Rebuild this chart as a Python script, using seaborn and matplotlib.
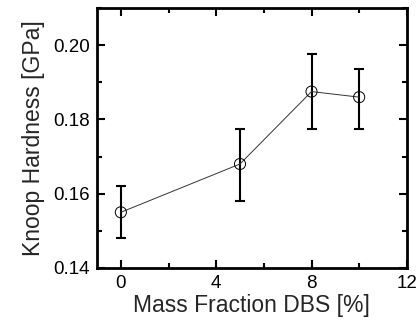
import matplotlib
matplotlib.use("Agg")
import matplotlib.pyplot as plt
import seaborn as sns
import pandas as pd
from matplotlib.ticker import MultipleLocator

# Knoop hardness vs. DBS mass fraction
mass_fraction = [0, 5, 8, 10]
hardness = [0.155, 0.168, 0.1875, 0.186]
err_low = [0.148, 0.158, 0.1775, 0.1775]
err_high = [0.162, 0.1775, 0.1975, 0.1935]

df = pd.DataFrame({"x": mass_fraction, "y": hardness})

sns.set_theme(style="ticks")
plt.rcParams["font.family"] = ["Liberation Sans", "DejaVu Sans"]

fig = plt.figure(figsize=(4.19, 3.2), dpi=100)
ax = fig.add_axes([0.2315, 0.1625, 0.7395, 0.8125])

yerr = [[h - lo for h, lo in zip(hardness, err_low)],
        [hi - h for h, hi in zip(hardness, err_high)]]
ax.errorbar(mass_fraction, hardness, yerr=yerr, fmt="none", ecolor="black",
            elinewidth=1.5, capsize=3.5, capthick=1.5, zorder=2)
sns.lineplot(data=df, x="x", y="y", ax=ax, color="#333333", linewidth=0.7,
             zorder=3)
sns.scatterplot(data=df, x="x", y="y", ax=ax, s=64, marker="o",
                facecolor="none", edgecolor="black", linewidth=0.7, zorder=4)

ax.set_xlim(-1, 12)
ax.set_ylim(0.14, 0.21)
ax.xaxis.set_major_locator(MultipleLocator(4))
ax.xaxis.set_minor_locator(MultipleLocator(2))
ax.yaxis.set_major_locator(MultipleLocator(0.02))
ax.yaxis.set_minor_locator(MultipleLocator(0.01))
ax.yaxis.set_major_formatter(matplotlib.ticker.FormatStrFormatter("%.2f"))

ax.tick_params(which="both", direction="in", top=True, right=True,
               width=1.5, colors="black", labelsize=13.5, pad=5)
ax.tick_params(which="major", length=6)
ax.tick_params(which="minor", length=3.5)
for s in ax.spines.values():
    s.set_linewidth(2)
    s.set_color("black")
    s.set_visible(True)

ax.set_xlabel("Mass Fraction DBS [%]", fontsize=16.5, labelpad=1.5)
ax.set_ylabel("Knoop Hardness [GPa]", fontsize=16.5, labelpad=6)

fig.savefig("out.png", dpi=100)
